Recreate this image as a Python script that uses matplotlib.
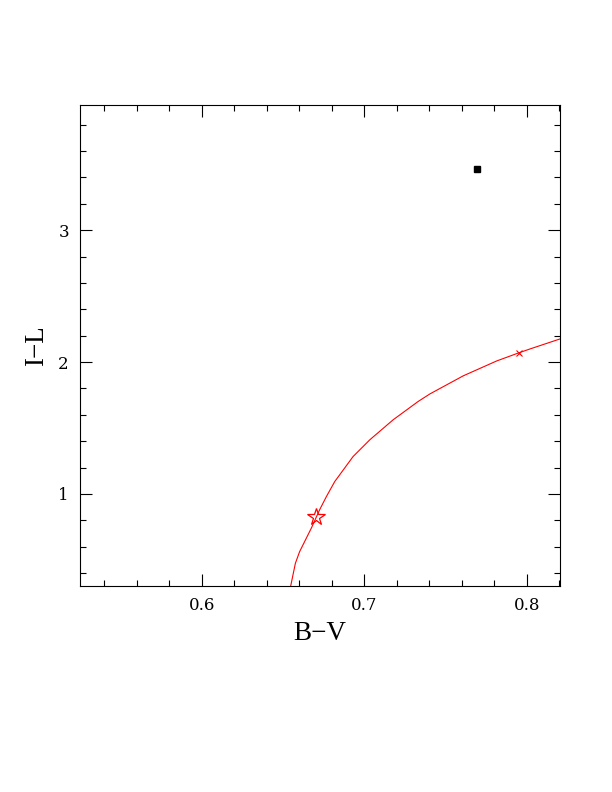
import matplotlib
matplotlib.use("Agg")
import matplotlib.pyplot as plt
from matplotlib.ticker import MultipleLocator

# Data
curve_bv = [0.6547, 0.6576, 0.6602, 0.6674, 0.6725, 0.6767, 0.6818, 0.6931,
            0.7034, 0.7178, 0.7332, 0.7404, 0.7609, 0.7815, 0.7948, 0.8020, 0.8205]
curve_il = [0.301, 0.474, 0.562, 0.740, 0.879, 0.980, 1.093, 1.283,
            1.410, 1.562, 1.701, 1.758, 1.895, 2.008, 2.068, 2.099, 2.175]
star_bv = [0.670]
star_il = [0.825]
cross_bv = [0.795]
cross_il = [2.070]
obs_bv = [0.7694]
obs_il = [3.460]

plt.rcParams['font.family'] = ['Liberation Serif', 'DejaVu Serif']

fig = plt.figure(figsize=(6.12, 7.92), dpi=100)
ax = fig.add_axes([80/612, 1-586/792, (560-80)/612, (586-105)/792])

ax.plot(curve_bv, curve_il, color='red', lw=0.8)
ax.plot(star_bv, star_il, marker='*', ms=13, mfc='none', mec='red', mew=0.9, ls='none')
ax.plot(cross_bv, cross_il, marker='x', ms=4.5, color='red', mew=0.8, ls='none')
ax.plot(obs_bv, obs_il, marker='s', ms=5, color='black', ls='none')

ax.set_xlim(0.525, 0.8205)
ax.set_ylim(0.3015, 3.949)

ax.xaxis.set_major_locator(MultipleLocator(0.1))
ax.xaxis.set_minor_locator(MultipleLocator(0.02))
ax.yaxis.set_major_locator(MultipleLocator(1))
ax.yaxis.set_minor_locator(MultipleLocator(0.2))

ax.tick_params(which='both', direction='in', top=True, right=True, width=0.8)
ax.tick_params(which='major', length=8.5, pad=8)
ax.tick_params(which='minor', length=4.3)
for lab in ax.get_xticklabels() + ax.get_yticklabels():
    lab.set_fontfamily(['DejaVu Serif'])
    lab.set_fontsize(12)
for s in ax.spines.values():
    s.set_linewidth(0.8)

ax.set_xlabel('B\u2212V', fontsize=19.5, labelpad=5)
ax.set_ylabel('I\u2212L', fontsize=19.5, labelpad=7)

fig.savefig('out.png', dpi=100)
